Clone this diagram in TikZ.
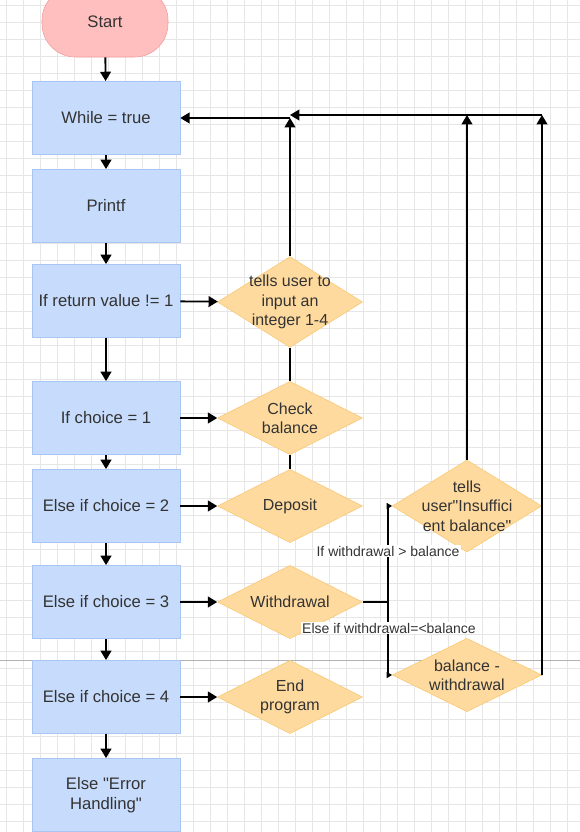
\documentclass[tikz,border=0pt]{standalone}
\usepackage{fontspec}
\setmainfont{Liberation Sans}
\usetikzlibrary{shapes.geometric,arrows.meta}

\definecolor{boxblue}{HTML}{C7DCFC}
\definecolor{boxline}{HTML}{A8C6F4}
\definecolor{startred}{HTML}{FFBFBF}
\definecolor{startline}{HTML}{F29A9A}
\definecolor{diafill}{HTML}{FFDA9E}
\definecolor{dialine}{HTML}{F7C870}
\definecolor{txt}{HTML}{333333}
\definecolor{gridgray}{HTML}{E6E6E6}

\tikzset{
  stepbox/.style={rectangle, draw=boxline, fill=boxblue, minimum width=111pt,
    minimum height=55pt, inner sep=2pt, text=txt, align=center,
    font=\fontsize{12.5}{15}\selectfont},
  startbox/.style={rectangle, rounded corners=25pt, draw=startline, fill=startred,
    minimum width=94.5pt, minimum height=52.5pt, text=txt,
    font=\fontsize{12.5}{15}\selectfont},
  decision/.style={diamond, draw=dialine, fill=diafill, minimum width=108.75pt,
    minimum height=55pt, inner sep=0pt},
  dtext/.style={text=txt, align=center, inner sep=0pt,
    font=\fontsize{12}{14.5}\selectfont},
  flow/.style={line width=1.4pt, -{Triangle[width=8pt,length=7pt]}},
  branch/.style={line width=0.8pt, -{Triangle[width=4.5pt,length=4pt]}},
  cond/.style={fill=white, text=txt, inner sep=1pt,
    font=\fontsize{10.5}{12}\selectfont},
}

\begin{document}
\begin{tikzpicture}[x=0.75pt, y=-0.75pt]
    \useasboundingbox (0,0) rectangle (580,832);
    \clip (0,0) rectangle (580,832);

    % background grid
    \fill[white] (0,0) rectangle (580,832);
    \foreach \gx in {6,23,...,580}
        \draw[gridgray, line width=0.6pt] (\gx,0) -- (\gx,832);
    \foreach \gy in {5,22,...,832}
        \draw[gridgray, line width=0.6pt] (0,\gy) -- (580,\gy);
    \draw[gray!60, line width=0.5pt] (0,660) -- (580,660);

    % main column
    \node[startbox] (start) at (105,22) {Start};
    \node[stepbox] (while) at (106,118) {While = true};
    \node[stepbox] (printf) at (106,206) {Printf};
    \node[stepbox] (ret) at (106,301) {If return value != 1};
    \node[stepbox] (ch1) at (106,418) {If choice = 1};
    \node[stepbox] (ch2) at (106,506) {Else if choice = 2};
    \node[stepbox] (ch3) at (106,602) {Else if choice = 3};
    \node[stepbox] (ch4) at (106,697) {Else if choice = 4};
    \node[stepbox] (err) at (106,795) {Else \textquotedbl Error\\Handling\textquotedbl};

    % decisions
    \node[decision, minimum height=68pt,
        label={[dtext]center:{tells user to\\input an\\integer 1-4}}] (tell) at (290,302) {};
    \node[decision, label={[dtext]center:{Check\\balance}}] (check) at (290,418) {};
    \node[decision, label={[dtext]center:{Deposit}}] (dep) at (290,506) {};
    \node[decision, label={[dtext]center:{Withdrawal}}] (wd) at (290,602) {};
    \node[decision, label={[dtext]center:{End\\program}}] (endp) at (290,697) {};
    \node[decision, minimum width=112pt, minimum height=69pt,
        label={[dtext]center:{tells\\user\textquotedbl Insuffici\\ent balance\textquotedbl}}] (ins) at (467,506) {};
    \node[decision, minimum width=112pt,
        label={[dtext]center:{balance -\\withdrawal}}] (bal) at (467,675) {};

    % down the column
    \draw[flow] (start) -- (while);
    \draw[flow] (while) -- (printf);
    \draw[flow] (printf) -- (ret);
    \draw[flow] (ret) -- (ch1);
    \draw[flow] (ch1) -- (ch2);
    \draw[flow] (ch2) -- (ch3);
    \draw[flow] (ch3) -- (ch4);
    \draw[flow] (ch4) -- (err);

    % across to the decisions
    \draw[flow] (ret) -- (tell);
    \draw[flow] (ch1) -- (check);
    \draw[flow] (ch2) -- (dep);
    \draw[flow] (ch3) -- (wd);
    \draw[flow] (ch4) -- (endp);

    % back to the loop
    \coordinate (loop) at (tell.north |- while.east);
    \coordinate (rtop) at (542,115);
    \coordinate (ltop) at (290,115);
    \draw[line width=1.4pt] (check.north) -- (tell.south);
    \draw[line width=1.4pt] (check.south) -- (dep.north);
    \draw[flow] (tell.north) -- (loop);
    \draw[flow] (loop) -- (while.east);
    \draw[flow] (rtop) -- (ltop);
    \draw[flow] (ins.north) -- (ins.north |- rtop);
    \draw[flow] (bal.east) -- (rtop);

    % withdrawal split
    \coordinate (split) at (388,602);
    \draw[line width=0.8pt] (wd.east) -- (split);
    \draw[branch] (split) |- (ins.west);
    \draw[branch] (split) |- (bal.west);
    \node[cond] (gt) at (388,551) {If withdrawal > balance};
    \node[cond] (le) at (389,628) {Else if withdrawal=<balance};

\end{tikzpicture}
\end{document}
